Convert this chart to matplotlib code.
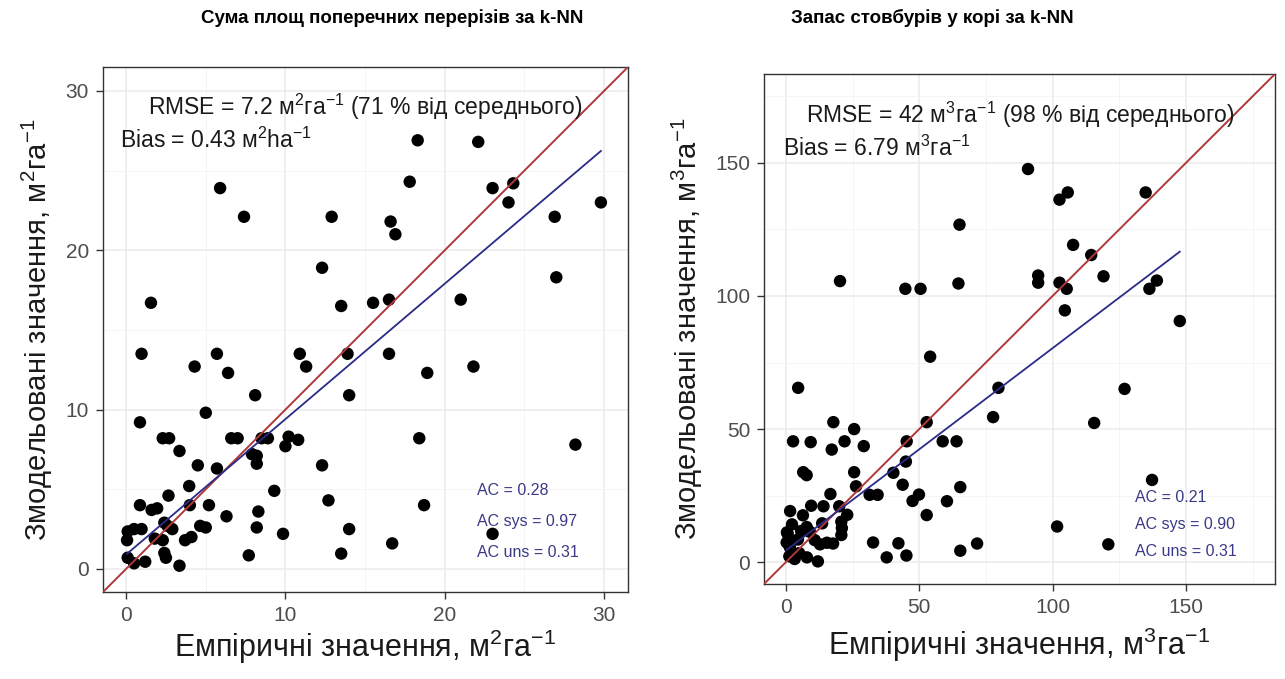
import matplotlib
matplotlib.use("Agg")
import matplotlib.pyplot as plt
import numpy as np

plt.rcParams['font.family'] = ['Liberation Sans', 'DejaVu Sans']
plt.rcParams['mathtext.fontset'] = 'custom'
plt.rcParams['mathtext.rm'] = 'Liberation Sans'
plt.rcParams['mathtext.it'] = 'Liberation Sans:italic'
plt.rcParams['mathtext.bf'] = 'Liberation Sans:bold'

# ---------------- data: left panel (basal area) ----------------
left_title = "Сума площ поперечних перерізів за k-NN"
left_emp = [18.3, 22.1, 5.9, 17.8, 23.0, 24.3, 24.0, 29.8, 7.4, 12.9, 16.6, 16.9, 26.9, 12.3, 27.0,
            1.56, 13.5, 15.5, 16.5, 21.0, 0.97, 5.7, 10.9, 13.9, 16.5, 4.3, 6.4, 11.3, 18.9, 21.8,
            8.1, 14.0, 5.0, 0.87, 2.3, 2.7, 6.6, 7.0, 8.5, 8.9, 10.2, 10.8, 10.0, 18.4, 28.2,
            3.35, 7.9, 8.2, 8.2, 4.5, 5.7, 12.3, 3.96, 9.3, 2.66, 12.7, 0.87, 1.6, 1.95, 4.0,
            5.2, 18.7, 6.3, 8.3, 2.4, 2.6, 0.1, 0.5, 0.97, 4.65, 5.0, 2.9, 8.2, 14.0, 0.06,
            1.8, 2.3, 3.7, 4.1, 9.85, 23.0, 16.7, 2.4, 2.5, 7.7, 13.5, 0.1, 0.5, 1.2, 3.35]
left_mod = [26.9, 26.8, 23.9, 24.3, 23.9, 24.2, 23.0, 23.0, 22.1, 22.1, 21.8, 21.0, 22.1, 18.9, 18.3,
            16.7, 16.5, 16.7, 16.9, 16.9, 13.5, 13.5, 13.5, 13.5, 13.5, 12.7, 12.3, 12.7, 12.3, 12.7,
            10.9, 10.9, 9.8, 9.2, 8.2, 8.2, 8.2, 8.2, 8.2, 8.2, 8.3, 8.1, 7.7, 8.2, 7.8,
            7.4, 7.2, 7.1, 6.6, 6.5, 6.3, 6.5, 5.2, 4.9, 4.6, 4.3, 4.0, 3.7, 3.8, 4.0,
            4.0, 4.0, 3.3, 3.6, 2.9, 2.7, 2.35, 2.5, 2.5, 2.7, 2.6, 2.5, 2.6, 2.5, 1.8,
            1.9, 1.8, 1.8, 2.0, 2.2, 2.2, 1.6, 1.0, 0.7, 0.85, 0.96, 0.7, 0.35, 0.45, 0.2]
left_fit = (0.85, 0.9)   # slope, intercept of fitted (blue) line
left_rmse = r"RMSE = 7.2 м$^{2}$га$^{-1}$ (71 % від середнього)"
left_bias = r"Bias = 0.43 м$^{2}$ha$^{-1}$"
left_ac = ["AC = 0.28", "AC sys = 0.97", "AC uns = 0.31"]
left_xlabel = r"Емпіричні значення, м$^{2}$га$^{-1}$"
left_ylabel = r"Змодельовані значення, м$^{2}$га$^{-1}$"
left_ticks = [0, 10, 20, 30]

# ---------------- data: right panel (stem volume) ----------------
right_title = "Запас стовбурів у корі за k-NN"
right_emp = [90.8, 102.6, 105.7, 134.9, 65.1, 107.7, 114.5, 20.3, 44.8, 50.5, 64.7, 94.6, 94.6, 102.6,
             105.3, 119.1, 136.3, 139.1, 104.6, 147.7, 54.1, 4.6, 79.7, 127.0, 77.7, 52.8, 115.6,
             17.8, 25.6, 2.7, 9.3, 17.2, 22.0, 29.2, 45.3, 58.8, 64.0, 6.5, 7.8, 25.6, 40.3, 45.0,
             26.3, 43.8, 65.4, 137.3, 16.7, 31.4, 34.4, 49.9, 47.5, 60.4, 52.8, 1.6, 9.5, 14.1,
             20.0, 23.0, 20.8, 21.0, 20.8, 6.4, 2.3, 13.6, 0.4, 0.7, 5.7, 9.0, 7.8, 101.7, 0.3,
             1.5, 4.5, 10.8, 15.4, 17.7, 12.8, 32.7, 42.2, 71.7, 120.9, 65.4, 37.8, 45.2, 1.3,
             3.3, 7.9, 12.0, 5.0]
right_mod = [147.7, 136.2, 138.9, 138.9, 126.8, 119.2, 115.4, 105.6, 102.7, 102.7, 104.7, 107.7, 105.0,
             105.0, 102.7, 107.4, 102.7, 105.8, 94.6, 90.6, 77.2, 65.5, 65.5, 65.1, 54.5, 52.6, 52.3,
             52.6, 50.0, 45.4, 45.1, 42.3, 45.4, 43.6, 45.4, 45.4, 45.4, 33.8, 32.7, 33.8, 33.6, 37.8,
             28.5, 29.1, 28.2, 30.9, 25.6, 25.3, 25.3, 25.4, 23.0, 22.9, 17.7, 19.2, 21.2, 21.0,
             21.0, 17.8, 15.2, 12.8, 10.2, 17.6, 14.2, 14.6, 11.2, 10.6, 11.7, 11.4, 13.2, 13.4, 7.4,
             5.6, 8.5, 8.3, 7.3, 7.0, 6.7, 7.4, 7.1, 7.0, 6.7, 4.3, 1.8, 2.5, 2.2,
             1.2, 1.8, 0.3, 3.4]
right_fit = (0.76, 4.4)
right_rmse = r"RMSE = 42 м$^{3}$га$^{-1}$ (98 % від середнього)"
right_bias = r"Bias = 6.79 м$^{3}$га$^{-1}$"
right_ac = ["AC = 0.21", "AC sys = 0.90", "AC uns = 0.31"]
right_xlabel = r"Емпіричні значення, м$^{3}$га$^{-1}$"
right_ylabel = r"Змодельовані значення, м$^{3}$га$^{-1}$"
right_ticks = [0, 50, 100, 150]

# ---------------- styling ----------------
W, H = 1285, 679
fig = plt.figure(figsize=(W / 100, H / 100), dpi=100)

RED = "#B03838"
BLUE = "#2A2A88"
ACCOL = "#3A3A88"
GRID = "#EBEBEB"
BORDER = "#333333"
TICKLAB = "#4D4D4D"


def panel(rect, emp, mod, fit, lims, ticks, minor, rmse, rmse_pos, bias, bias_pos,
          ac, ac_pos, ac_step, xlabel, ylabel, xlabelpad):
    ax = fig.add_axes(rect)
    ax.set_xlim(*lims)
    ax.set_ylim(*lims)
    ax.set_xticks(ticks)
    ax.set_yticks(ticks)
    ax.set_xticks(minor, minor=True)
    ax.set_yticks(minor, minor=True)
    ax.grid(True, which="major", color=GRID, lw=1.1, zorder=0)
    ax.grid(True, which="minor", color="#F4F4F4", lw=0.6, zorder=0)
    ax.set_axisbelow(True)
    for s in ax.spines.values():
        s.set_color(BORDER)
        s.set_linewidth(1.0)
    ax.tick_params(which="major", length=5, width=1.0, color=BORDER,
                   labelsize=15, labelcolor=TICKLAB, pad=5)
    ax.tick_params(which="minor", length=0)
    ax.scatter(emp, mod, s=80, color="black", edgecolors="none", zorder=3)
    ax.axline((0, 0), slope=1, color=RED, lw=1.4, zorder=4)
    xs = np.array([min(emp), max(emp)])
    ax.plot(xs, fit[0] * xs + fit[1], color=BLUE, lw=1.3, zorder=4)
    ax.text(rmse_pos[0], rmse_pos[1], rmse, ha="center", va="center", fontsize=16.5,
            color="#1A1A1A", zorder=5)
    ax.text(bias_pos[0], bias_pos[1], bias, ha="left", va="center", fontsize=16.5,
            color="#1A1A1A", zorder=5)
    for i, t in enumerate(ac):
        ax.text(ac_pos[0], ac_pos[1] - i * ac_step, t, ha="left", va="center",
                fontsize=11.5, color=ACCOL, zorder=5)
    ax.set_xlabel(xlabel, fontsize=22, color="#1A1A1A", labelpad=xlabelpad)
    ax.set_ylabel(ylabel, fontsize=21, color="#1A1A1A", labelpad=7.5)
    return ax


axL = panel([103 / W, 1 - 592 / H, 525 / W, 525 / H], left_emp, left_mod, left_fit,
            (-1.45, 31.5), left_ticks, [5, 15, 25],
            left_rmse, (15.0, 29.0), left_bias, (-0.4, 26.9),
            left_ac, (22.0, 4.9), 1.95, left_xlabel, left_ylabel, 2)

axR = panel([764 / W, 1 - 584 / H, 511 / W, 510 / H], right_emp, right_mod, right_fit,
            (-8.2, 183.4), right_ticks, [25, 75, 125, 175],
            right_rmse, (88.0, 168.0), right_bias, (-1.1, 155.6),
            right_ac, (130.9, 24.2), 10.1, right_xlabel, right_ylabel, 6)

title_kw = dict(fontsize=13.5, fontweight="bold", ha="center", va="center",
                family=["Liberation Sans Narrow", "Liberation Sans", "DejaVu Sans"])
fig.text(392 / W, 1 - 18 / H, left_title, **title_kw)
fig.text(932 / W, 1 - 18 / H, right_title, **title_kw)

fig.savefig("out.png", dpi=100)
